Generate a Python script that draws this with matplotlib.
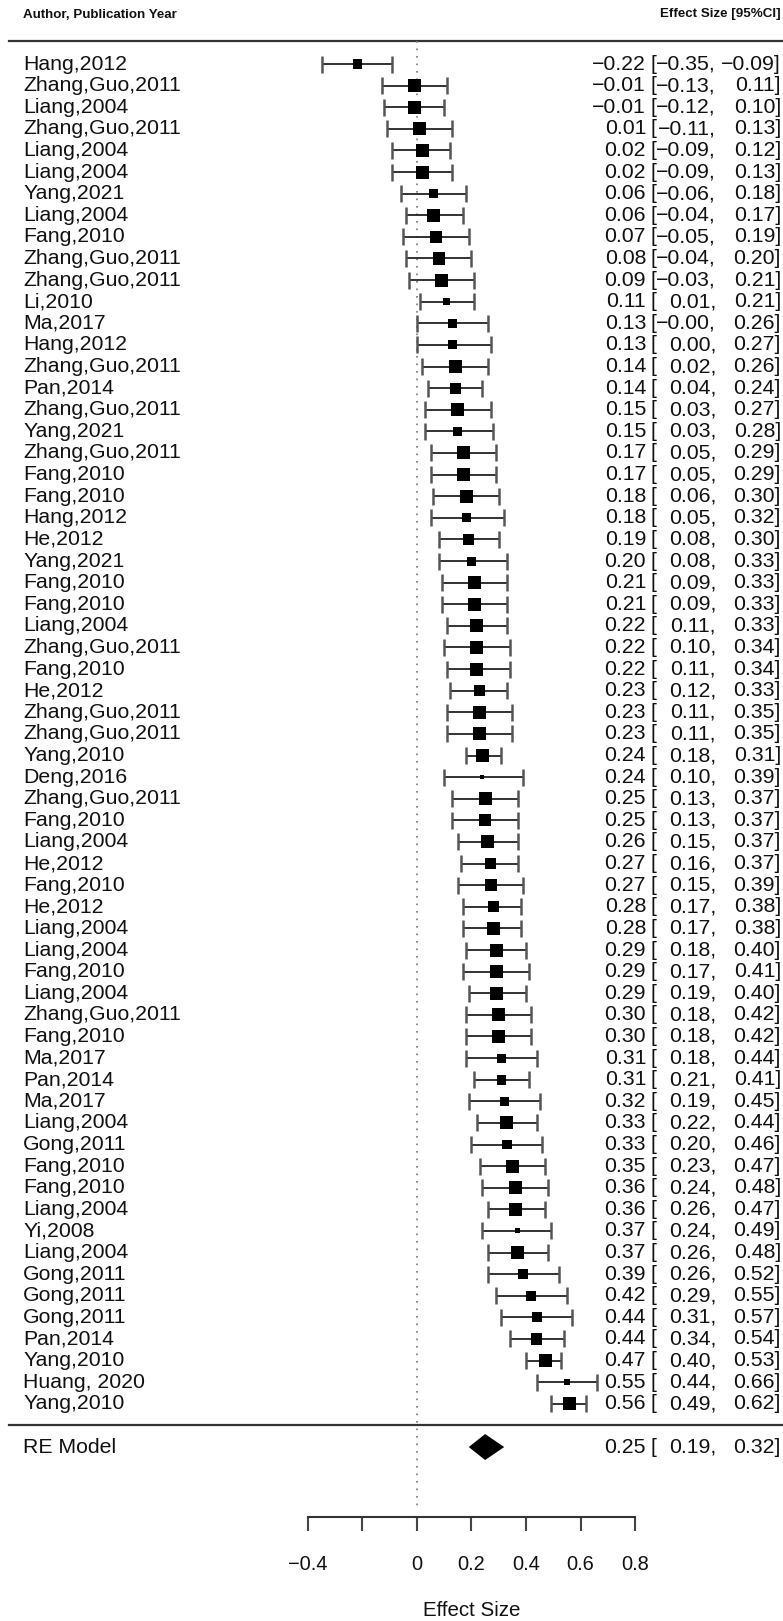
import numpy as np
import matplotlib
matplotlib.use("Agg")
import matplotlib.pyplot as plt
import matplotlib.transforms as mtransforms

plt.rcParams['font.family'] = ['Liberation Sans', 'DejaVu Sans']

estudos = ["Hang,2012", "Zhang,Guo,2011", "Liang,2004", "Zhang,Guo,2011", "Liang,2004",
           "Liang,2004", "Yang,2021", "Liang,2004", "Fang,2010", "Zhang,Guo,2011",
           "Zhang,Guo,2011", "Li,2010", "Ma,2017", "Hang,2012", "Zhang,Guo,2011",
           "Pan,2014", "Zhang,Guo,2011", "Yang,2021", "Zhang,Guo,2011", "Fang,2010",
           "Fang,2010", "Hang,2012", "He,2012", "Yang,2021", "Fang,2010",
           "Fang,2010", "Liang,2004", "Zhang,Guo,2011", "Fang,2010", "He,2012",
           "Zhang,Guo,2011", "Zhang,Guo,2011", "Yang,2010", "Deng,2016", "Zhang,Guo,2011",
           "Fang,2010", "Liang,2004", "He,2012", "Fang,2010", "He,2012",
           "Liang,2004", "Liang,2004", "Fang,2010", "Liang,2004", "Zhang,Guo,2011",
           "Fang,2010", "Ma,2017", "Pan,2014", "Ma,2017", "Liang,2004",
           "Gong,2011", "Fang,2010", "Fang,2010", "Liang,2004", "Yi,2008",
           "Liang,2004", "Gong,2011", "Gong,2011", "Gong,2011", "Pan,2014",
           "Yang,2010", "Huang, 2020", "Yang,2010"]
efeito = [-0.22, -0.01, -0.01, 0.01, 0.02, 0.02, 0.06, 0.06, 0.07, 0.08,
          0.09, 0.11, 0.13, 0.13, 0.14, 0.14, 0.15, 0.15, 0.17, 0.17,
          0.18, 0.18, 0.19, 0.20, 0.21, 0.21, 0.22, 0.22, 0.22, 0.23,
          0.23, 0.23, 0.24, 0.24, 0.25, 0.25, 0.26, 0.27, 0.27, 0.28,
          0.28, 0.29, 0.29, 0.29, 0.30, 0.30, 0.31, 0.31, 0.32, 0.33,
          0.33, 0.35, 0.36, 0.36, 0.37, 0.37, 0.39, 0.42, 0.44, 0.44,
          0.47, 0.55, 0.56]
ic_inf = [-0.35, -0.13, -0.12, -0.11, -0.09, -0.09, -0.06, -0.04, -0.05, -0.04,
          -0.03, 0.01, -0.00, 0.00, 0.02, 0.04, 0.03, 0.03, 0.05, 0.05,
          0.06, 0.05, 0.08, 0.08, 0.09, 0.09, 0.11, 0.10, 0.11, 0.12,
          0.11, 0.11, 0.18, 0.10, 0.13, 0.13, 0.15, 0.16, 0.15, 0.17,
          0.17, 0.18, 0.17, 0.19, 0.18, 0.18, 0.18, 0.21, 0.19, 0.22,
          0.20, 0.23, 0.24, 0.26, 0.24, 0.26, 0.26, 0.29, 0.31, 0.34,
          0.40, 0.44, 0.49]
ic_sup = [-0.09, 0.11, 0.10, 0.13, 0.12, 0.13, 0.18, 0.17, 0.19, 0.20,
          0.21, 0.21, 0.26, 0.27, 0.26, 0.24, 0.27, 0.28, 0.29, 0.29,
          0.30, 0.32, 0.30, 0.33, 0.33, 0.33, 0.33, 0.34, 0.34, 0.33,
          0.35, 0.35, 0.31, 0.39, 0.37, 0.37, 0.37, 0.37, 0.39, 0.38,
          0.38, 0.40, 0.41, 0.40, 0.42, 0.42, 0.44, 0.41, 0.45, 0.44,
          0.46, 0.47, 0.48, 0.47, 0.49, 0.48, 0.52, 0.55, 0.57, 0.54,
          0.53, 0.66, 0.62]
# pesos relativos (%) de cada estudo
pesos = [0.87, 1.80, 1.80, 1.80, 1.80, 1.80, 0.87, 1.80, 1.55, 1.55,
         1.80, 0.52, 0.87, 0.87, 1.80, 1.30, 1.80, 0.87, 1.80, 1.80,
         1.80, 0.87, 1.30, 0.87, 1.80, 1.80, 1.80, 1.80, 1.80, 1.30,
         1.80, 1.80, 1.80, 0.17, 1.80, 1.55, 1.80, 1.30, 1.55, 1.30,
         1.80, 1.80, 1.80, 1.80, 1.80, 1.80, 0.87, 1.05, 0.87, 1.80,
         1.05, 1.80, 1.80, 1.80, 0.27, 1.80, 1.05, 1.05, 1.05, 1.30,
         1.80, 0.38, 1.80]
re_est, re_inf, re_sup = 0.25, 0.19, 0.32

ticks_x = [-0.4, -0.2, 0, 0.2, 0.4, 0.6, 0.8]
ticks_lbl = ["\u22120.4", "", "0", "0.2", "0.4", "0.6", "0.8"]


def fmt(v):
    return f"{v:.2f}".replace("-", "\u2212")


W, H = 783, 1621
n = len(estudos)
passo = 21.61      # px por linha
px_unid = 272.5    # px por unidade de efeito
x0_px = 417        # posicao do zero
eixo_px = 1517     # linha do eixo x

fig = plt.figure(figsize=(W / 100, H / 100), dpi=100)
ax = fig.add_axes([0, (H - eixo_px) / H, 1, eixo_px / H])
ax.set_xlim(-x0_px / px_unid, (W - x0_px) / px_unid)
y_topo = n + 64 / passo
ax.set_ylim(y_topo - eixo_px / passo, y_topo)

ys = np.arange(n, 0, -1)
fs = 15.3
cor = '#111111'

# linhas horizontais e referencia em zero
lx = (9 / W, 1.0)
ax.axhline(n + 1.06, xmin=lx[0], xmax=lx[1], color='#333333', lw=1.6)
ax.axhline(0.03, xmin=lx[0], xmax=lx[1], color='#333333', lw=1.6)
ax.plot([0, 0], [n + 1.06, 1 - (1510 - (64 + (n - 1) * passo)) / passo],
        color='#777777', lw=1.2, ls=(0, (1, 3.5)))

# intervalos de confianca
meia_h = 8.5 / passo
ax.hlines(ys, ic_inf, ic_sup, color='#222222', lw=1.3)
ax.vlines(ic_inf, ys - meia_h, ys + meia_h, color='#555555', lw=1.8)
ax.vlines(ic_sup, ys - meia_h, ys + meia_h, color='#555555', lw=1.8)

pesos = np.array(pesos)
lado_px = 13 * np.sqrt(pesos / pesos.max())
ax.scatter(efeito, ys, marker='s', s=(lado_px * 0.72) ** 2, color='black',
           linewidths=0, zorder=3)

# modelo RE
dh = 13 / passo
ax.fill([re_inf, re_est, re_sup, re_est], [-1, -1 + dh, -1, -1 - dh],
        color='black', lw=0, zorder=3)

# textos das colunas
tr = mtransforms.blended_transform_factory(fig.transFigure, ax.transData)
linhas_y = list(ys) + [-1]
rotulos = estudos + ["RE Model"]
ests = efeito + [re_est]
infs = ic_inf + [re_inf]
sups = ic_sup + [re_sup]
for y, nome, e, lo, hi in zip(linhas_y, rotulos, ests, infs, sups):
    ax.text(23 / W, y, nome, transform=tr, ha='left', va='center', fontsize=fs, color=cor)
    ax.text(646 / W, y, fmt(e), transform=tr, ha='right', va='center', fontsize=fs, color=cor)
    ax.text(650 / W, y, "[", transform=tr, ha='left', va='center', fontsize=fs, color=cor)
    ax.text(716 / W, y, fmt(lo) + ",", transform=tr, ha='right', va='center', fontsize=fs, color=cor)
    ax.text(781 / W, y, fmt(hi) + "]", transform=tr, ha='right', va='center', fontsize=fs, color=cor)

y_cab = n + (64 - 14.5) / passo
ax.text(23 / W, y_cab, "Author, Publication Year", transform=tr, ha='left', va='center',
        fontsize=9.6, fontweight='bold', color=cor)
ax.text(781 / W, y_cab, "Effect Size [95%CI]", transform=tr, ha='right', va='center',
        fontsize=9.6, fontweight='bold', color=cor)

# eixo x
for s in ['top', 'left', 'right']:
    ax.spines[s].set_visible(False)
ax.spines['bottom'].set_bounds(-0.4, 0.8)
ax.spines['bottom'].set_color('#333333')
ax.spines['bottom'].set_linewidth(1.5)
ax.set_yticks([])
ax.set_xticks(ticks_x)
ax.set_xticklabels(ticks_lbl, fontsize=14.4, color=cor)
ax.tick_params(axis='x', direction='out', length=10, width=1.5, color='#444444', pad=17)
ax.patch.set_alpha(0)

fig.text(417 / W + 0.2 * px_unid / W, (H - 1611) / H, "Effect Size", ha='center', va='center',
         fontsize=14.8, color=cor)

fig.savefig("out.png", dpi=100, facecolor='white')
